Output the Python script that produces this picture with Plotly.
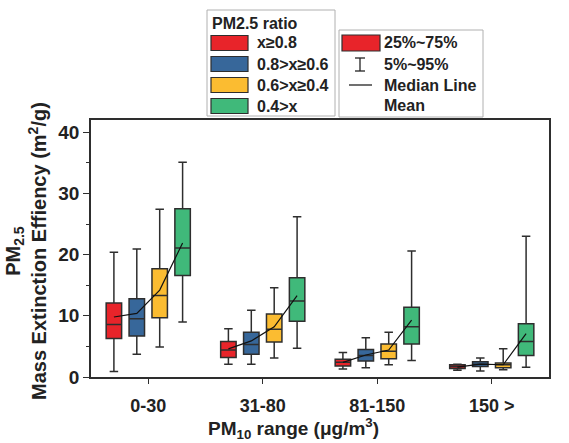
import plotly.graph_objects as go

# ---------------- data ----------------
groups = ["0-30", "31-80", "81-150", "150 >"]
series_names = ["x≥0.8", "0.8>x≥0.6", "0.6>x≥0.4", "0.4>x"]
series_colors = ["#e8242a", "#37679a", "#fbbc31", "#40b97a"]

# per series: values for the 4 PM10 groups
p05 = [
    [0.9, 2.1, 1.3, 1.1],
    [3.7, 2.1, 1.5, 1.0],
    [4.9, 3.1, 2.0, 1.2],
    [9.0, 4.7, 2.7, 1.6],
]
q25 = [
    [6.3, 3.2, 1.8, 1.4],
    [6.7, 3.7, 2.6, 1.7],
    [9.7, 5.7, 3.0, 1.5],
    [16.6, 9.1, 5.4, 3.5],
]
med = [
    [8.6, 4.4, 2.4, 1.7],
    [9.5, 5.3, 3.5, 2.1],
    [13.3, 7.8, 4.2, 2.0],
    [21.1, 12.4, 8.2, 5.8],
]
q75 = [
    [12.1, 5.8, 2.9, 2.0],
    [12.8, 7.3, 4.5, 2.5],
    [17.7, 10.3, 5.4, 2.3],
    [27.5, 16.2, 11.4, 8.7],
]
p95 = [
    [20.4, 7.9, 4.0, 2.1],
    [20.9, 10.9, 6.4, 3.1],
    [27.4, 14.6, 7.3, 4.6],
    [35.1, 26.2, 20.6, 23.0],
]
means = [
    [9.8, 4.6, 2.4, 1.6],
    [10.4, 5.9, 3.6, 2.1],
    [14.2, 8.2, 4.4, 2.0],
    [21.9, 13.3, 9.3, 7.1],
]
y_ticks = [0, 10, 20, 30, 40]

# ---------------- layout constants ----------------
W, H = 569, 443
ML, MR, MT, MB = 91, 20, 120, 66
PW, PH = W - ML - MR, H - MT - MB
offsets = [-0.3, -0.1, 0.1, 0.3]
FONT = "Liberation Sans, Arial, sans-serif"
EDGE = "#2e2e2e"


def px(xp):
    return (xp - ML) / PW


def py(yp):
    return (MT + PH - yp) / PH


fig = go.Figure()

for s in range(4):
    xs = [g + offsets[s] for g in range(len(groups))]
    fig.add_trace(go.Box(
        x=xs, q1=q25[s], median=med[s], q3=q75[s],
        lowerfence=p05[s], upperfence=p95[s],
        width=0.135, whiskerwidth=0.55,
        fillcolor=series_colors[s],
        line=dict(color=EDGE, width=1.5),
        boxpoints=False, showlegend=False, hoverinfo="skip",
        name=series_names[s],
    ))

# mean lines (one per group)
mx, my = [], []
for g in range(len(groups)):
    for s in range(4):
        mx.append(g + offsets[s])
        my.append(means[s][g])
    mx.append(None)
    my.append(None)
fig.add_trace(go.Scatter(x=mx, y=my, mode="lines",
                         line=dict(color="#111111", width=1.2),
                         showlegend=False, hoverinfo="skip"))

shapes = []
annotations = []
TXT = dict(family=FONT, size=16, color="#222", weight="bold")

# legend 1
shapes.append(dict(type="rect", xref="paper", yref="paper",
                   x0=px(207), x1=px(335), y0=py(116), y1=py(10),
                   line=dict(color="#b0b0b0", width=1), fillcolor="white", layer="above"))
annotations.append(dict(xref="paper", yref="paper", x=px(210), y=py(23),
                        xanchor="left", yanchor="middle", showarrow=False,
                        text="PM2.5 ratio", font=TXT))
rows = [43, 64, 85, 106]
for s in range(4):
    shapes.append(dict(type="rect", xref="paper", yref="paper",
                       x0=px(211), x1=px(248), y0=py(rows[s] + 7.5), y1=py(rows[s] - 7.5),
                       line=dict(color=EDGE, width=1.2), fillcolor=series_colors[s], layer="above"))
    annotations.append(dict(xref="paper", yref="paper", x=px(255), y=py(rows[s]),
                            xanchor="left", yanchor="middle", showarrow=False,
                            text=series_names[s], font=TXT))

# legend 2
shapes.append(dict(type="rect", xref="paper", yref="paper",
                   x0=px(339), x1=px(483), y0=py(117), y1=py(30),
                   line=dict(color="#b0b0b0", width=1), fillcolor="white", layer="above"))
shapes.append(dict(type="rect", xref="paper", yref="paper",
                   x0=px(342), x1=px(380), y0=py(51), y1=py(35),
                   line=dict(color=EDGE, width=1.2), fillcolor=series_colors[0], layer="above"))
# I-beam
for seg in [((360, 58), (360, 71)), ((355, 58), (365, 58)), ((355, 71), (365, 71))]:
    shapes.append(dict(type="line", xref="paper", yref="paper",
                       x0=px(seg[0][0]), y0=py(seg[0][1]), x1=px(seg[1][0]), y1=py(seg[1][1]),
                       line=dict(color="#222", width=1.3), layer="above"))
# median line symbol
shapes.append(dict(type="line", xref="paper", yref="paper",
                   x0=px(349), y0=py(85), x1=px(372), y1=py(85),
                   line=dict(color="#222", width=1.3), layer="above"))
for txt, yy in zip(["25%~75%", "5%~95%", "Median Line", "Mean"], [43, 64, 85, 105]):
    annotations.append(dict(xref="paper", yref="paper", x=px(382), y=py(yy),
                            xanchor="left", yanchor="middle", showarrow=False, text=txt,
                            font=TXT))

# axis titles
annotations.append(dict(xref="paper", yref="paper", x=px(293), y=py(428),
                        xanchor="center", yanchor="middle", showarrow=False,
                        text="PM<sub>10</sub> range (μg/m<sup>3</sup>)",
                        font=dict(family=FONT, size=19, color="#222", weight="bold")))
annotations.append(dict(xref="paper", yref="paper", x=px(26), y=py(251),
                        xanchor="center", yanchor="middle", showarrow=False, textangle=-90,
                        text="PM<sub>2.5</sub><br>Mass Extinction Effiency (m<sup>2</sup>/g)",
                        font=dict(family=FONT, size=20, color="#222", weight="bold")))

fig.update_layout(
    template="none",
    width=W, height=H,
    margin=dict(l=ML, r=MR, t=MT, b=MB, pad=0, autoexpand=False),
    paper_bgcolor="white", plot_bgcolor="white",
    boxmode="overlay",
    showlegend=False,
    shapes=shapes, annotations=annotations,
    font=dict(family=FONT, color="#222"),
)
fig.update_xaxes(
    automargin=False,
    range=[-0.5, 3.5], tickvals=list(range(len(groups))), ticktext=groups,
    ticks="outside", ticklen=5, tickwidth=1.3, tickcolor=EDGE,
    ticklabelstandoff=7,
    showline=True, linecolor=EDGE, linewidth=1.5, mirror=True,
    showgrid=False, zeroline=False,
    tickfont=dict(family=FONT, size=18, color="#222", weight="bold"),
)
fig.update_yaxes(
    automargin=False,
    range=[0, 42], tickvals=y_ticks,
    ticks="outside", ticklen=6, tickwidth=1.3, tickcolor=EDGE,
    minor=dict(ticks="outside", ticklen=3, dtick=5, tickcolor=EDGE, tickwidth=1.1, showgrid=False),
    showline=True, linecolor=EDGE, linewidth=1.5, mirror=True,
    showgrid=False, zeroline=False,
    tickfont=dict(family=FONT, size=19, color="#222", weight="bold"),
)

fig.write_html("out.html", config={"displayModeBar": False},
               post_script="document.body.style.margin='0';")
